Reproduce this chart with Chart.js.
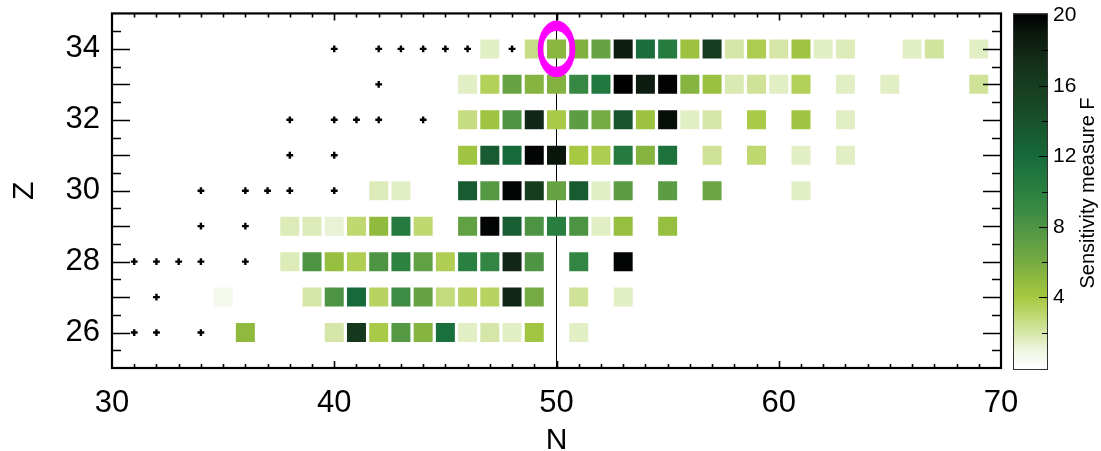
<!DOCTYPE html>
<html><head><meta charset="utf-8">
<script src="https://cdn.jsdelivr.net/npm/chart.js@4.4.1/dist/chart.umd.min.js"></script>
<style>html,body{margin:0;padding:0;background:#fff;overflow:hidden}</style>
</head><body>
<canvas id="c" width="1101" height="451"></canvas>
<script>
// ---- data: sensitivity measure F per (N, Z) ----
const z34N = [47,49,50,51,52,53,54,55,56,57,58,59,60,61,62,63,66,67,69];
const z34F = [1.5,2.6,5.2,5.6,6.7,18.6,11.7,10.5,4.4,16.2,2.0,3.7,2.0,4.3,1.5,1.7,1.5,2.2,1.5];
const z33N = [46,47,48,49,50,51,52,53,54,55,56,57,58,59,60,61,63,65,69];
const z33F = [1.5,3.5,6.7,5.4,5.5,9.2,11.0,20.0,18.7,19.9,5.4,4.5,1.8,2.3,1.5,3.5,1.5,1.5,2.3];
const z32N = [46,47,48,49,50,51,52,53,54,55,56,57,59,61,63];
const z32F = [2.7,4.3,8.0,18.0,3.9,7.3,6.0,13.8,4.4,19.4,1.5,2.0,3.9,4.3,1.5];
const z31N = [46,47,48,49,50,51,52,53,54,55,57,59,61,63];
const z31F = [4.3,13.3,12.0,19.8,19.1,4.0,3.7,10.6,5.4,11.4,2.3,3.0,1.5,1.5];
const z30N = [42,43,46,47,48,49,50,51,52,53,55,57,61];
const z30F = [1.7,1.5,13.3,7.7,19.8,16.0,6.7,13.3,1.5,7.4,7.3,6.5,1.5];
const z29N = [38,39,40,41,42,43,44,46,47,48,49,50,51,52,53,55];
const z29F = [1.7,1.7,1.2,3.0,4.9,10.6,3.0,7.0,19.8,13.0,8.1,10.3,8.1,1.5,4.7,4.7];
const z28N = [38,39,40,41,42,43,44,45,46,47,48,49,51,53];
const z28F = [1.7,8.1,4.7,3.6,8.0,9.8,7.0,3.6,10.0,9.5,18.0,8.0,9.5,19.8];
const z27N = [35,39,40,41,42,43,44,45,46,47,48,49,51,53];
const z27F = [0.6,2.0,8.1,12.0,3.3,8.8,6.7,2.8,3.3,3.3,18.0,6.0,2.3,1.5];
const z26N = [36,40,41,42,43,44,45,46,47,48,49,51];
const z26F = [5.0,2.0,16.5,3.9,7.6,5.4,11.6,1.5,2.0,1.5,4.2,1.5];
const rowZ = [34,33,32,31,30,29,28,27,26];
const rowN = [z34N,z33N,z32N,z31N,z30N,z29N,z28N,z27N,z26N];
const rowF = [z34F,z33F,z32F,z31F,z30F,z29F,z28F,z27F,z26F];

// nuclei marked with "+"
const plusN = [40,42,43,44,45,46,48, 42, 38,40,41,42,44, 38,40, 34,36,37,38,40, 34,36, 31,32,33,34,36, 32, 31,32,34];
const plusZ = [34,34,34,34,34,34,34, 33, 32,32,32,32,32, 31,31, 30,30,30,30,30, 29,29, 28,28,28,28,28, 27, 26,26,26];

// reference line and highlighted nucleus
const lineN = [50,50];
const lineZ = [25,35];
const markN = [50];
const markZ = [34];

// axis ranges / tick labels
const xMin = 30, xMax = 70, xLabels = [30,40,50,60,70];
const yMin = 25, yMax = 35, yLabels = [26,28,30,32,34];
const cbMin = 0, cbMax = 20.1, cbLabels = [4,8,12,16,20];
const cbTicks = [0,2,4,6,8,10,12,14,16,18,20];

// colour scale
const cmapV = [0,1,2,3,4,5,6,7,8,9,10,11,12,13,14,15,16,17,18,19,20];
const cmapC = ['#ffffff','#eef5e0','#d6e6a8','#bfd870','#a6c842','#8fba3e','#76aa42','#62a044','#4e9444','#3a8a43','#2a8040','#21783e','#166a3a','#185e32','#18532c','#184724','#173d1f','#15321b','#112616','#0b170d','#000000'];

function hex2rgb(h){return [parseInt(h.substr(1,2),16),parseInt(h.substr(3,2),16),parseInt(h.substr(5,2),16)];}
function colorFor(v){
  if (v<=cmapV[0]) return cmapC[0];
  if (v>=cmapV[cmapV.length-1]) return cmapC[cmapC.length-1];
  for (let i=0;i<cmapV.length-1;i++){
    if (v>=cmapV[i] && v<=cmapV[i+1]){
      const t=(v-cmapV[i])/(cmapV[i+1]-cmapV[i]);
      const a=hex2rgb(cmapC[i]), b=hex2rgb(cmapC[i+1]);
      return 'rgb('+a.map((c,k)=>Math.round(c+(b[k]-c)*t)).join(',')+')';
    }
  }
}

const cells=[], cellColors=[];
rowZ.forEach((z,i)=>{ rowN[i].forEach((n,j)=>{ cells.push({x:n,y:z,f:rowF[i][j]}); cellColors.push(colorFor(rowF[i][j])); }); });
const plus = plusN.map((n,i)=>({x:n,y:plusZ[i]}));
const line = lineN.map((n,i)=>({x:n,y:lineZ[i]}));
const mark = markN.map((n,i)=>({x:n,y:markZ[i]}));

const FONT = "'Liberation Sans', Arial, sans-serif";
Chart.defaults.font.family = FONT;
Chart.defaults.color = '#000';

const decor = {
  id:'decor',
  afterDatasetsDraw(chart){
    const ctx=chart.ctx, ca=chart.chartArea, xs=chart.scales.x, ys=chart.scales.y;
    ctx.save();
    // highlight ellipse (ring)
    mark.forEach(p=>{
      const cx=xs.getPixelForValue(p.x), cy=ys.getPixelForValue(p.y);
      ctx.beginPath();
      ctx.ellipse(cx,cy,18.8,28.4,0,0,Math.PI*2);
      ctx.ellipse(cx,cy,13.3,17.9,0,0,Math.PI*2);
      ctx.fillStyle='#ff00ff';
      ctx.fill('evenodd');
    });
    // inward ticks
    ctx.strokeStyle='#000';
    ctx.lineWidth=1.6;
    xs.ticks.forEach(t=>{
      const v=t.value; if (v<=xMin||v>=xMax) return;
      const px=Math.round(xs.getPixelForValue(v))+0.5;
      const len = (v%10===0)?7:4;
      ctx.beginPath();
      ctx.moveTo(px,ca.bottom); ctx.lineTo(px,ca.bottom-len);
      ctx.moveTo(px,ca.top); ctx.lineTo(px,ca.top+len);
      ctx.stroke();
    });
    ys.ticks.forEach(t=>{
      const v=t.value; if (v<=yMin||v>=yMax) return;
      const py=Math.round(ys.getPixelForValue(v))+0.5;
      const len = Number.isInteger(v)?18:9;
      ctx.beginPath();
      ctx.moveTo(ca.left,py); ctx.lineTo(ca.left+len,py);
      ctx.moveTo(ca.right,py); ctx.lineTo(ca.right-len,py);
      ctx.stroke();
    });
    // frame
    ctx.lineWidth=2.2;
    ctx.strokeRect(ca.left,ca.top,ca.right-ca.left,ca.bottom-ca.top);
    ctx.restore();
  },
  afterDraw(chart){
    const ctx=chart.ctx, cb=chart.scales.cb;
    const x0=1013, x1=1048;
    const top=cb.getPixelForValue(cbMax), bot=cb.getPixelForValue(cbMin)+2;
    ctx.save();
    const g=ctx.createLinearGradient(0,cb.getPixelForValue(0),0,cb.getPixelForValue(20));
    cmapV.forEach((v,i)=>g.addColorStop(v/20,cmapC[i]));
    ctx.fillStyle=g;
    ctx.fillRect(x0,top,x1-x0,bot-top);
    ctx.strokeStyle='#333'; ctx.lineWidth=1;
    ctx.strokeRect(x0+0.5,top+0.5,x1-x0-1,bot-top-1);
    ctx.strokeStyle='#000';
    cb.ticks.forEach(t=>{
      const v=t.value; if (v<=0||v>=20) return;
      const py=Math.round(cb.getPixelForValue(v))+0.5;
      const len=(v%4===0)?9:6;
      ctx.beginPath(); ctx.moveTo(x1,py); ctx.lineTo(x1-len,py); ctx.stroke();
    });
    // colour bar title
    ctx.translate(1088,193);
    ctx.rotate(-Math.PI/2);
    ctx.font="20px "+FONT;
    ctx.fillStyle='#000';
    ctx.textAlign='center'; ctx.textBaseline='middle';
    ctx.fillText('Sensitivity measure F',0,0);
    ctx.restore();
  }
};

function zeroPad(s){ s.paddingTop=0; s.paddingBottom=0; s.paddingLeft=0; s.paddingRight=0; }

new Chart(document.getElementById('c'),{
  type:'scatter',
  data:{datasets:[
    {label:'F', data:cells, pointStyle:'rect', pointRadius:19/Math.SQRT2, pointHoverRadius:19/Math.SQRT2, backgroundColor:cellColors, borderWidth:0, xAxisID:'x', yAxisID:'y'},
    {label:'plus', data:plus, pointStyle:'cross', pointRadius:3.4, borderColor:'#000', backgroundColor:'#000', borderWidth:2.4, xAxisID:'x', yAxisID:'y'},
    {type:'line', label:'N=50', data:line, borderColor:'#000', borderWidth:1, pointRadius:0, fill:false, xAxisID:'x', yAxisID:'y'}
  ]},
  options:{
    responsive:false, animation:false, events:[],
    layout:{padding:{top:11,left:0,right:0,bottom:0}},
    plugins:{legend:{display:false}, tooltip:{enabled:false}},
    scales:{
      x:{type:'linear', position:'bottom', min:xMin, max:xMax,
         grid:{display:false, drawTicks:false}, border:{display:false},
         ticks:{stepSize:1, autoSkip:false, maxRotation:0, padding:17, font:{size:31},
                callback:v=> xLabels.includes(v)?String(v):''},
         title:{display:true, text:'N', font:{size:30, lineHeight:0.7}, padding:0},
         afterFit:s=>{ s.height=83; zeroPad(s); }},
      y:{type:'linear', position:'left', min:yMin, max:yMax,
         grid:{display:false, drawTicks:false}, border:{display:false},
         ticks:{stepSize:0.5, autoSkip:false, padding:12, font:{size:31},
                callback:v=> yLabels.includes(v)?String(v):''},
         title:{display:true, text:'Z', font:{size:30}, padding:{top:7,bottom:0}},
         afterFit:s=>{ s.width=112; zeroPad(s); }},
      cb:{type:'linear', position:'right', min:cbMin, max:cbMax,
         grid:{display:false, drawTicks:false}, border:{display:false},
         afterBuildTicks:s=>{ s.ticks = cbTicks.map(v=>({value:v})); },
         ticks:{autoSkip:false, padding:52, font:{size:21},
                callback:v=> cbLabels.includes(v)?String(v):''},
         afterFit:s=>{ s.width=100; zeroPad(s); }}
    }
  },
  plugins:[decor]
});
</script>
</body></html>
